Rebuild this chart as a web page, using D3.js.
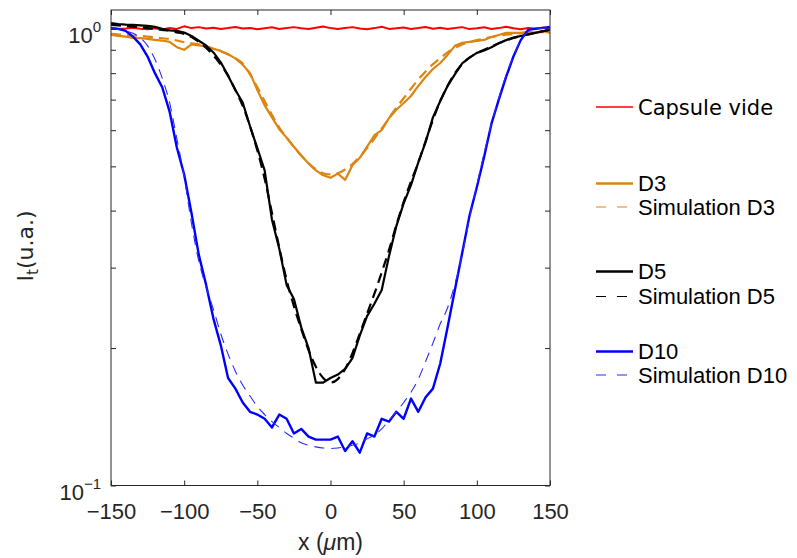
<!DOCTYPE html>
<html>
<head>
<meta charset="utf-8">
<script src="https://cdn.jsdelivr.net/npm/d3@7/dist/d3.min.js"></script>
<style>
  body { margin: 0; background: #fff; }
  svg { display: block; }
</style>
</head>
<body>
<svg id="chart" width="797" height="558"></svg>
<script>
// ---------------- data ----------------
// sample positions (µm) shared by all series
const xPositions = [-150,-145,-140,-135,-130,-125,-120,-115,-110,-105,-100,-95,-90,-85,-80,-75,-70,-65,-60,-55,-50,-45,-40,-35,-30,-25,-20,-15,-10,-5,0,5,10,15,20,25,30,35,40,45,50,55,60,65,70,75,80,85,90,95,100,105,110,115,120,125,130,135,140,145,150];

const capsuleVide = [1.004,1.0,1.002,1.006,1.001,0.998,1.003,0.997,1.005,1.0,1.013,1.004,1.009,1.002,1.006,0.999,1.004,1.01,1.002,1.005,0.998,1.003,1.008,1.0,1.004,1.009,1.003,1.0,1.006,1.012,1.004,1.0,1.005,1.009,1.002,0.998,1.004,1.011,1.0,1.003,1.007,0.999,1.004,1.01,1.001,1.006,1.0,1.004,1.009,0.999,1.003,1.008,1.0,1.004,1.011,1.003,0.998,1.004,1.002,1.006,1.004];

const d3Measured = [0.97,0.965,0.962,0.956,0.955,0.951,0.946,0.943,0.937,0.912,0.9,0.925,0.92,0.916,0.905,0.895,0.88,0.862,0.835,0.80,0.735,0.68,0.64,0.603,0.578,0.552,0.528,0.507,0.49,0.478,0.472,0.482,0.467,0.503,0.522,0.552,0.585,0.60,0.638,0.665,0.688,0.713,0.75,0.785,0.817,0.842,0.877,0.918,0.932,0.937,0.941,0.946,0.96,0.97,0.98,0.98,0.98,0.985,0.98,0.99,0.98];

const d3Simulation = [0.975,0.972,0.97,0.967,0.965,0.962,0.958,0.954,0.95,0.943,0.935,0.93,0.925,0.916,0.905,0.893,0.88,0.862,0.84,0.795,0.745,0.695,0.648,0.608,0.578,0.551,0.528,0.508,0.493,0.483,0.48,0.483,0.492,0.506,0.525,0.548,0.575,0.605,0.638,0.672,0.705,0.74,0.775,0.807,0.837,0.862,0.888,0.908,0.925,0.935,0.945,0.952,0.96,0.966,0.971,0.975,0.978,0.981,0.983,0.984,0.985];

const d5Measured = [1.03,1.025,1.022,1.02,1.018,1.015,1.01,1.0,0.993,0.99,0.982,0.965,0.942,0.92,0.888,0.845,0.79,0.735,0.69,0.612,0.548,0.49,0.382,0.33,0.275,0.256,0.222,0.2,0.168,0.168,0.172,0.175,0.18,0.19,0.213,0.235,0.25,0.268,0.318,0.37,0.415,0.455,0.51,0.565,0.64,0.695,0.75,0.795,0.84,0.865,0.886,0.897,0.912,0.93,0.945,0.957,0.965,0.972,0.98,0.988,0.995];

const d5Simulation = [1.02,1.018,1.015,1.012,1.008,1.004,1.0,0.995,0.99,0.983,0.975,0.96,0.937,0.908,0.875,0.835,0.79,0.735,0.678,0.612,0.542,0.47,0.395,0.332,0.282,0.247,0.22,0.198,0.182,0.172,0.168,0.171,0.18,0.195,0.215,0.238,0.263,0.293,0.328,0.372,0.418,0.463,0.51,0.568,0.632,0.695,0.75,0.8,0.838,0.865,0.885,0.9,0.915,0.93,0.943,0.955,0.965,0.973,0.98,0.988,0.995];

const d10Measured = [1.004,1.0,0.99,0.962,0.925,0.87,0.80,0.745,0.66,0.55,0.48,0.395,0.32,0.275,0.232,0.203,0.172,0.163,0.152,0.145,0.143,0.14,0.134,0.143,0.14,0.13,0.133,0.128,0.126,0.126,0.126,0.128,0.119,0.125,0.118,0.13,0.128,0.14,0.138,0.145,0.14,0.155,0.145,0.156,0.163,0.185,0.222,0.268,0.323,0.39,0.45,0.525,0.62,0.70,0.785,0.87,0.945,0.995,1.0,1.005,1.01];

const d10Simulation = [1.0,0.997,0.99,0.978,0.956,0.918,0.858,0.78,0.69,0.575,0.475,0.375,0.31,0.272,0.243,0.215,0.194,0.178,0.166,0.157,0.149,0.143,0.138,0.134,0.13,0.127,0.124,0.1225,0.1215,0.1208,0.1205,0.1208,0.1215,0.1225,0.124,0.1265,0.129,0.133,0.139,0.145,0.152,0.16,0.171,0.187,0.205,0.226,0.245,0.276,0.32,0.385,0.455,0.535,0.62,0.705,0.792,0.872,0.945,0.985,1.0,1.003,1.005];

const xTickValues = [-150,-100,-50,0,50,100,150];
const yMajorTicks = [0.1, 1];
const yMajorLabels = [["10","−1"],["10","0"]];
const yMinorTicks = [0.2,0.3,0.4,0.5,0.6,0.7,0.8,0.9];

const seriesNames = ["Capsule vide","D3","Simulation D3","D5","Simulation D5","D10","Simulation D10"];
const seriesValues = [capsuleVide,d3Measured,d3Simulation,d5Measured,d5Simulation,d10Measured,d10Simulation];

// ---------------- styles ----------------
const styles = [
  {color:"#ff0000", width:2,   dash:null,   lw:1.4, ldash:null,    font:"'DejaVu Sans', sans-serif", fs:21, ly:107},
  {color:"#dd8411", width:2.2, dash:null,   lw:2.6, ldash:null,    font:"'Liberation Sans', Arial, sans-serif", fs:22, ly:183.5},
  {color:"#dd8411", width:2.2, dash:"10,6", lw:1.2, ldash:"10,11", font:"'Liberation Sans', Arial, sans-serif", fs:22, ly:207},
  {color:"#000000", width:2.2, dash:null,   lw:2.6, ldash:null,    font:"'Liberation Sans', Arial, sans-serif", fs:22, ly:271.5},
  {color:"#000000", width:2.2, dash:"10,6", lw:1.2, ldash:"10,11", font:"'Liberation Sans', Arial, sans-serif", fs:22, ly:296.5},
  {color:"#0000ff", width:2.4, dash:null,   lw:2.6, ldash:null,    font:"'Liberation Sans', Arial, sans-serif", fs:22, ly:351.5},
  {color:"#2a2aff", width:1.1, dash:"10,7", lw:1.2, ldash:"10,11", font:"'Liberation Sans', Arial, sans-serif", fs:22, ly:375}
];

// ---------------- layout ----------------
const svg = d3.select("#chart");
const plot = {left:111, right:550, top:10, bottom:485.5};
const axisColor = "#262626";
const tickFont = "'Liberation Sans', Arial, Helvetica, sans-serif";

const x = d3.scaleLinear().domain([-150,150]).range([plot.left, plot.right]);
const y = d3.scaleLog().domain([0.1,1.1]).range([plot.bottom, plot.top]);

svg.append("rect").attr("width",797).attr("height",558).attr("fill","#fff");

svg.append("defs").append("clipPath").attr("id","clip")
  .append("rect").attr("x",plot.left).attr("y",plot.top)
  .attr("width",plot.right-plot.left).attr("height",plot.bottom-plot.top);

// lines
const gLines = svg.append("g").attr("clip-path","url(#clip)");
const line = d3.line().x(d=>x(d[0])).y(d=>y(d[1]));
seriesValues.forEach((vals,i)=>{
  const pts = xPositions.map((xv,j)=>[xv, vals[j]]);
  const st = styles[i];
  const isSim = seriesNames[i].startsWith("Simulation");
  const p = gLines.append("path")
    .attr("d", (isSim ? line.curve(d3.curveMonotoneX) : line.curve(d3.curveLinear))(pts))
    .attr("fill","none")
    .attr("stroke",st.color)
    .attr("stroke-width",st.width)
    .attr("stroke-linejoin","round");
  if (st.dash) p.attr("stroke-dasharray", st.dash);
});

// axes
function styleAxis(g){
  g.select(".domain").remove();
  g.selectAll(".tick line").attr("stroke",axisColor).attr("stroke-width",1);
  g.selectAll(".tick text").attr("fill",axisColor);
}
const xb = svg.append("g").attr("transform",`translate(0,${plot.bottom})`)
  .call(d3.axisBottom(x).tickValues(xTickValues).tickSizeInner(-5).tickSizeOuter(0).tickPadding(18))
  .call(styleAxis);
xb.selectAll(".tick text").attr("font-family",tickFont).attr("font-size",22).attr("dy","0.71em");

svg.append("g").attr("transform",`translate(0,${plot.top})`)
  .call(d3.axisTop(x).tickValues(xTickValues).tickSizeInner(-5).tickSizeOuter(0).tickFormat(""))
  .call(styleAxis);

svg.append("g").attr("transform",`translate(${plot.left},0)`)
  .call(d3.axisLeft(y).tickValues(yMajorTicks.concat(yMinorTicks)).tickSizeInner(-5).tickSizeOuter(0).tickFormat(""))
  .call(styleAxis);
svg.append("g").attr("transform",`translate(${plot.right},0)`)
  .call(d3.axisRight(y).tickValues(yMajorTicks.concat(yMinorTicks)).tickSizeInner(-5).tickSizeOuter(0).tickFormat(""))
  .call(styleAxis);

// y major labels with superscripts
yMajorTicks.forEach((v,i)=>{
  const t = svg.append("text")
    .attr("x", plot.left-10).attr("y", y(v)+14)
    .attr("text-anchor","end")
    .attr("font-family",tickFont).attr("fill",axisColor);
  t.append("tspan").attr("font-size",22).text(yMajorLabels[i][0]);
  t.append("tspan").attr("font-size",15).attr("dy",-11).text(yMajorLabels[i][1]);
});

// box
svg.append("rect")
  .attr("x",plot.left).attr("y",plot.top)
  .attr("width",plot.right-plot.left).attr("height",plot.bottom-plot.top)
  .attr("fill","none").attr("stroke",axisColor).attr("stroke-width",1);

// x label
const xl = svg.append("text")
  .attr("x", (plot.left+plot.right)/2).attr("y", 550)
  .attr("text-anchor","middle")
  .attr("font-family",tickFont).attr("font-size",23).attr("fill",axisColor);
xl.append("tspan").text("x (");
xl.append("tspan").attr("font-style","italic").text("μ");
xl.append("tspan").text("m)");

// y label
const yl = svg.append("text")
  .attr("transform","translate(33,246) rotate(-90)")
  .attr("text-anchor","middle")
  .attr("font-family","'DejaVu Sans', sans-serif").attr("font-size",22).attr("fill",axisColor);
yl.append("tspan").text("I");
yl.append("tspan").attr("font-size",15).attr("dy",5).text("t");
yl.append("tspan").attr("dy",-5).text("(u.a.)");

// legend
const leg = svg.append("g");
seriesNames.forEach((name,i)=>{
  const st = styles[i];
  const l = leg.append("line")
    .attr("x1",596).attr("x2",633).attr("y1",st.ly).attr("y2",st.ly)
    .attr("stroke",st.color).attr("stroke-width",st.lw);
  if (st.ldash) l.attr("stroke-dasharray",st.ldash);
  leg.append("text")
    .attr("x",638).attr("y",st.ly).attr("dy","0.36em")
    .attr("font-family",st.font).attr("font-size",st.fs).attr("fill","#000")
    .text(name);
});
</script>
</body>
</html>
